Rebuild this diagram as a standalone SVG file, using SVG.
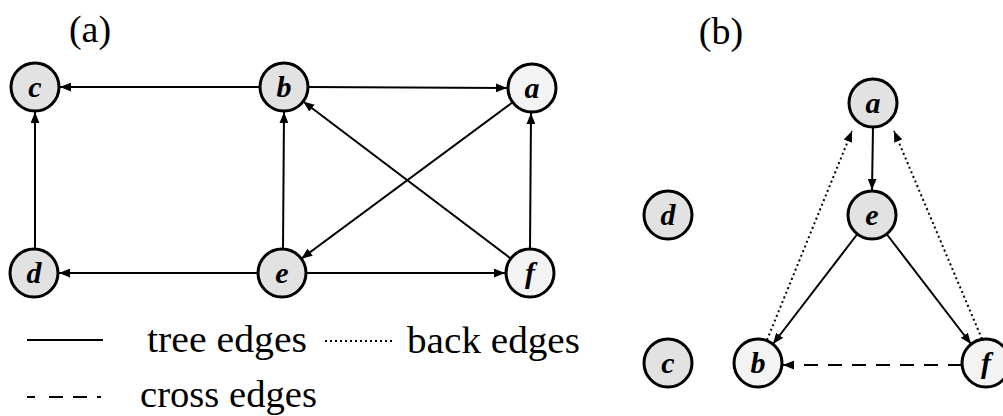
<svg xmlns="http://www.w3.org/2000/svg" width="1003" height="416" viewBox="0 0 1003 416">
<style>
.node{stroke:#000;stroke-width:3;fill:#e2e2e2}
.light{fill:#f3f3f3}
.lbl{font-family:"Liberation Serif",serif;font-style:italic;font-weight:bold;font-size:30px;text-anchor:middle;fill:#000}
.txt{font-family:"Liberation Serif",serif;font-size:38px;fill:#000}
.e{stroke:#000;stroke-width:2;fill:none}
.tree{marker-end:url(#ah)}
.back{stroke-dasharray:2 3;marker-end:url(#ah)}
.cross{stroke-dasharray:14 10;marker-end:url(#ah)}
</style>
<defs>
<marker id="ah" viewBox="0 0 10 8" refX="10" refY="4" markerWidth="11" markerHeight="9" markerUnits="userSpaceOnUse" orient="auto">
<path d="M0,0 L10,4 L0,8 Z" fill="#000"/>
</marker>
</defs>
<text class="txt" x="90" y="42" text-anchor="middle">(a)</text>
<text class="txt" x="721" y="44" text-anchor="middle">(b)</text>
<g id="connectors">
<line class="e tree" x1="260" y1="87" x2="60" y2="87"/>
<line class="e tree" x1="308" y1="87" x2="507" y2="88"/>
<line class="e tree" x1="35" y1="248" x2="35" y2="112"/>
<line class="e tree" x1="283" y1="249" x2="284" y2="112"/>
<line class="e tree" x1="258" y1="273" x2="59" y2="273"/>
<line class="e tree" x1="306" y1="273" x2="505" y2="273"/>
<line class="e tree" x1="530" y1="249" x2="531" y2="113"/>
<line class="e tree" x1="512.7" y1="102.3" x2="301.3" y2="258.7"/>
<line class="e tree" x1="510.8" y1="258.5" x2="303.2" y2="101.5"/>
<line class="e tree" x1="873" y1="127" x2="872" y2="190"/>
<line class="e tree" x1="857.4" y1="234" x2="773" y2="344"/>
<line class="e tree" x1="886.6" y1="234" x2="971" y2="344"/>
<line class="e back" x1="767" y1="340" x2="852" y2="131"/>
<line class="e back" x1="982" y1="339" x2="894" y2="131"/>
<line class="e cross" x1="962" y1="365" x2="783" y2="365"/>
</g>
<g id="node-a-c"><circle class="node" cx="35" cy="87" r="24"/><text class="lbl" x="35" y="97">c</text></g>
<g id="node-a-b"><circle class="node" cx="284" cy="87" r="24"/><text class="lbl" x="284" y="97">b</text></g>
<g id="node-a-a"><circle class="node light" cx="532" cy="88" r="24"/><text class="lbl" x="532" y="98">a</text></g>
<g id="node-a-d"><circle class="node" cx="34" cy="273" r="24"/><text class="lbl" x="34" y="283">d</text></g>
<g id="node-a-e"><circle class="node" cx="282" cy="273" r="24"/><text class="lbl" x="282" y="283">e</text></g>
<g id="node-a-f"><circle class="node light" cx="530" cy="273" r="24"/><text class="lbl" x="530" y="283">f</text></g>
<g id="node-b-a"><circle class="node" cx="873" cy="103" r="24"/><text class="lbl" x="873" y="113">a</text></g>
<g id="node-b-e"><circle class="node" cx="872" cy="215" r="24"/><text class="lbl" x="872" y="225">e</text></g>
<g id="node-b-d"><circle class="node" cx="668" cy="215" r="24"/><text class="lbl" x="668" y="225">d</text></g>
<g id="node-b-c"><circle class="node" cx="668" cy="363" r="24"/><text class="lbl" x="668" y="373">c</text></g>
<g id="node-b-b"><circle class="node light" cx="758" cy="363" r="24"/><text class="lbl" x="758" y="373">b</text></g>
<g id="node-b-f"><circle class="node light" cx="986" cy="363" r="24"/><text class="lbl" x="986" y="373">f</text></g>
<g id="legend">
<line class="e" x1="27" y1="340" x2="103" y2="340"/>
<text class="txt" x="147" y="352" textLength="160" lengthAdjust="spacingAndGlyphs">tree edges</text>
<line class="e" x1="325" y1="341" x2="393" y2="341" stroke-dasharray="2 3"/>
<text class="txt" x="407" y="353" textLength="173" lengthAdjust="spacingAndGlyphs">back edges</text>
<line class="e" x1="27" y1="397" x2="101" y2="397" stroke-dasharray="8 14 14 10 14 10"/>
<text class="txt" x="140" y="407" textLength="177" lengthAdjust="spacingAndGlyphs">cross edges</text>
</g>
</svg>
